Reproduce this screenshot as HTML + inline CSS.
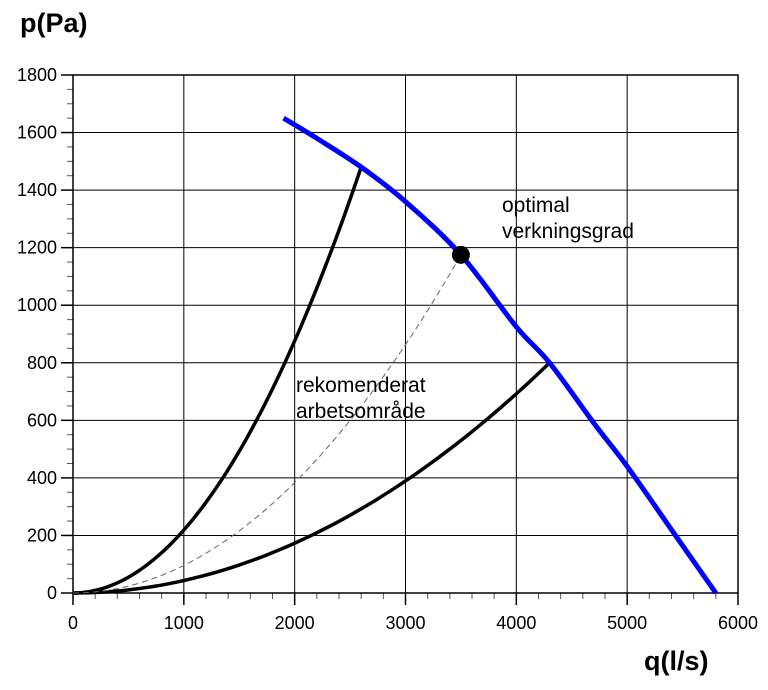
<!DOCTYPE html>
<html><head><meta charset="utf-8"><style>
html,body{margin:0;padding:0;background:#fff;}
svg{display:block;font-family:"Liberation Sans",Arial,sans-serif;}
</style></head><body>
<svg id="c" width="768" height="690" viewBox="0 0 768 690">
<g id="grid"></g>
<g id="axes"></g>
<g id="series"></g>
<text x="20" y="32" font-size="27" font-weight="bold">p(Pa)</text>
<text x="644" y="670" font-size="27" font-weight="bold">q(l/s)</text>
<text x="502" y="212" font-size="21"><tspan x="502">optimal</tspan><tspan x="502" dy="26">verkningsgrad</tspan></text>
<text x="296" y="392" font-size="21"><tspan x="296">rekomenderat</tspan><tspan x="296" dy="26">arbetsområde</tspan></text>
</svg>
<script>
const xTicks=[0,1000,2000,3000,4000,5000,6000];
const yTicks=[0,200,400,600,800,1000,1200,1400,1600,1800];
const fanQ=[1900,2200,2600,3000,3500,4000,4300,4700,5000,5400,5800];
const fanP=[1650,1580,1480,1360,1175,925,800,590,440,220,0];
const upperEnd=[2600,1480];
const optimalPoint=[3500,1175];
const lowerEnd=[4300,800];
const X0=73,X1=738,Y0=593,Y1=75;
const sx=q=>X0+(q/6000)*(X1-X0);
const sy=p=>Y0-(p/1800)*(Y0-Y1);
const NS="http://www.w3.org/2000/svg";
function mk(t,parent,attrs){const e=document.createElementNS(NS,t);for(const k in attrs)e.setAttribute(k,attrs[k]);parent.appendChild(e);return e;}
const grid=document.getElementById('grid'),axes=document.getElementById('axes'),series=document.getElementById('series');
xTicks.forEach(v=>{
  if(v>0){const l=mk('line',grid,{x1:sx(v),x2:sx(v),y1:Y1,y2:Y0,stroke:'#000','stroke-width':1});
  
  }
  const t=mk('text',axes,{x:sx(v),y:Y0+36,'font-size':18,'text-anchor':'middle'});t.textContent=v;
  
  
  mk('line',axes,{x1:sx(v),x2:sx(v),y1:Y0,y2:Y0+12,stroke:'#000','stroke-width':1.5});
});
for(let v=200;v<6000;v+=200){if(v%1000)mk('line',axes,{x1:sx(v),x2:sx(v),y1:Y0,y2:Y0+6,stroke:'#555','stroke-width':1});}
yTicks.forEach(v=>{
  if(v>0){const l=mk('line',grid,{x1:X0,x2:X1,y1:sy(v),y2:sy(v),stroke:'#000','stroke-width':1});
  
  }
  const t=mk('text',axes,{x:X0-16,y:sy(v)+6,'font-size':18,'text-anchor':'end'});t.textContent=v;
  
  
  mk('line',axes,{x1:X0-12,x2:X0,y1:sy(v),y2:sy(v),stroke:'#000','stroke-width':1.5});
});
for(let v=50;v<1800;v+=50){if(v%200)mk('line',axes,{x1:X0-6,x2:X0,y1:sy(v),y2:sy(v),stroke:'#555','stroke-width':1});}
mk('rect',axes,{x:X0,y:Y1,width:X1-X0,height:Y0-Y1,fill:'none',stroke:'#000','stroke-width':1.5});
function parab(end){const k=end[1]/(end[0]*end[0]);let d='';for(let i=0;i<=60;i++){const q=end[0]*i/60;d+=(i?'L':'M')+sx(q).toFixed(1)+','+sy(k*q*q).toFixed(1);}return d;}
let p=mk('path',series,{d:parab(upperEnd),fill:'none',stroke:'#000','stroke-width':3.5});


p=mk('path',series,{d:parab(lowerEnd),fill:'none',stroke:'#000','stroke-width':3.5});


p=mk('path',series,{d:parab(optimalPoint),fill:'none',stroke:'#666','stroke-width':1,'stroke-dasharray':'6,4'});


// Catmull-Rom smooth fan curve
const pts=fanQ.map((q,i)=>[sx(q),sy(fanP[i])]);
let d='M'+pts[0][0]+','+pts[0][1];
for(let i=0;i<pts.length-1;i++){const p0=pts[Math.max(0,i-1)],p1=pts[i],p2=pts[i+1],p3=pts[Math.min(pts.length-1,i+2)];
d+='C'+(p1[0]+(p2[0]-p0[0])/6)+','+(p1[1]+(p2[1]-p0[1])/6)+' '+(p2[0]-(p3[0]-p1[0])/6)+','+(p2[1]-(p3[1]-p1[1])/6)+' '+p2[0]+','+p2[1];}
p=mk('path',series,{d:d,fill:'none',stroke:'#0000ff','stroke-width':5});


const c=mk('circle',series,{cx:sx(optimalPoint[0]),cy:sy(optimalPoint[1]),r:9,fill:'#000'});


</script>
</body></html>
